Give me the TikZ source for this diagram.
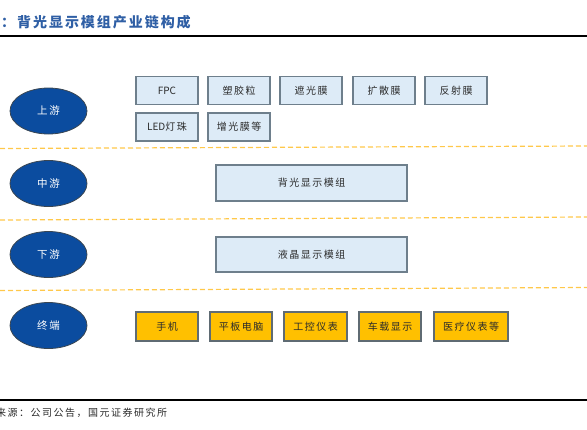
\documentclass[tikz,border=0pt]{standalone}
\usepackage{fontspec}
\setmainfont{Liberation Sans}
\newfontfamily\cjk[LetterSpace=15]{Noto Sans CJK SC}
\newfontfamily\cjkplain{Noto Sans CJK SC}
\newfontfamily\cjktitle[LetterSpace=14]{Noto Sans CJK SC}
\usetikzlibrary{shapes.geometric}
\definecolor{ellblue}{HTML}{0B4C9F}
\definecolor{elledge}{HTML}{3A4652}
\definecolor{boxfill}{HTML}{DDEBF7}
\definecolor{boxedge}{HTML}{6E7F8C}
\definecolor{ybox}{HTML}{FFC000}
\definecolor{yedge}{HTML}{5F6B73}
\definecolor{dashy}{HTML}{FFC84A}
\definecolor{titleblue}{HTML}{2F5FA5}
\definecolor{textdark}{HTML}{2B2B2B}
\tikzset{
  lvl/.style={ellipse, draw=elledge, line width=0.8pt, fill=ellblue, minimum width=77pt, minimum height=46pt, inner sep=0pt, text=white, font=\cjk\fontsize{10.5}{12}\selectfont},
  bluebox/.style={rectangle, draw=boxedge, line width=1.2pt, fill=boxfill, minimum height=28pt, inner sep=0pt, text=textdark, font=\cjk\fontsize{10}{12}\selectfont},
  ybox/.style={rectangle, draw=yedge, line width=1.2pt, fill=ybox, minimum height=29pt, inner sep=0pt, text=textdark, font=\cjk\fontsize{10}{12}\selectfont},
  dashline/.style={draw=dashy, line width=1.2pt, dash pattern=on 5pt off 3pt},
  rule/.style={line width=2pt, draw=black}
}
\begin{document}
\begin{tikzpicture}[x=1pt,y=-1pt]
\useasboundingbox (0,0) rectangle (587,429);
% title and rules
\node[anchor=west, inner sep=0pt, text=titleblue, font=\cjktitle\bfseries\fontsize{14}{16}\selectfont] (title) at (1,22) {：背光显示模组产业链构成};
\draw[rule] (0,36) -- (587,36);
\draw[rule] (0,399.5) -- (587,399.5);
\node[anchor=west, inner sep=0pt, text=textdark, font=\cjk\fontsize{10}{12}\selectfont] (src) at (-4,413) {来源：公司公告，国元证券研究所};
% dashed separators
\draw[dashline] (0,148.5) -- (587,146);
\draw[dashline] (0,220) -- (587,217);
\draw[dashline] (0,290.5) -- (587,287.5);
% levels
\node[lvl] (up) at (48.5,111) {上游};
\node[lvl] (mid) at (48.5,183.5) {中游};
\node[lvl] (down) at (48.5,254.5) {下游};
\node[lvl] (term) at (48.5,325.5) {终端};
% upstream
\node[bluebox, minimum width=62pt] (fpc) at (167,90.5) {{\cjkplain FPC}};
\node[bluebox, minimum width=62pt] (plastic) at (239,90.5) {塑胶粒};
\node[bluebox, minimum width=62pt] (shade) at (311,90.5) {遮光膜};
\node[bluebox, minimum width=62pt] (diff) at (384,90.5) {扩散膜};
\node[bluebox, minimum width=62pt] (refl) at (456,90.5) {反射膜};
\node[bluebox, minimum width=62pt] (led) at (167,127) {{\cjkplain LED}灯珠};
\node[bluebox, minimum width=62pt] (bright) at (239,127) {增光膜等};
% midstream
\node[bluebox, minimum width=191pt, minimum height=36pt] (blm) at (311.5,183) {背光显示模组};
% downstream
\node[bluebox, minimum width=191pt, minimum height=35pt] (lcm) at (311.5,254.5) {液晶显示模组};
% terminal
\node[ybox, minimum width=62pt] (phone) at (167,326.5) {手机};
\node[ybox, minimum width=62pt] (tablet) at (241,326.5) {平板电脑};
\node[ybox, minimum width=63pt] (ind) at (315.5,326.5) {工控仪表};
\node[ybox, minimum width=62pt] (car) at (390,326.5) {车载显示};
\node[ybox, minimum width=74pt] (med) at (471,326.5) {医疗仪表等};
\end{tikzpicture}
\end{document}
